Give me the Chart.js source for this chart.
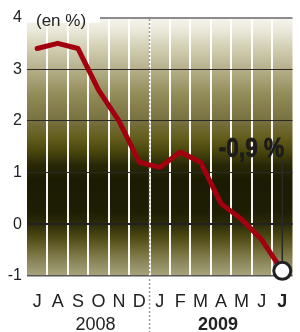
<!DOCTYPE html>
<html>
<head>
<meta charset="utf-8">
<script src="https://cdn.jsdelivr.net/npm/chart.js@4/dist/chart.umd.min.js"></script>
<style>
html,body{margin:0;padding:0;background:#fff;overflow:hidden;width:300px;height:332px;}
#wrap{width:304px;height:332px;}
</style>
</head>
<body>
<div id="wrap"><canvas id="c" width="304" height="332"></canvas></div>
<script>
// ---- data ----
const months = ['J','A','S','O','N','D','J','F','M','A','M','J','J'];
const inflation = [3.4, 3.5, 3.4, 2.6, 2.0, 1.2, 1.1, 1.4, 1.2, 0.4, 0.1, -0.3, -0.9];
const yTicks = [-1, 0, 1, 2, 3, 4];
const yearLabels = ['2008', '2009'];
const yearCenterIndex = [3, 9];
const yearBold = [false, true];
const yearBoundaryIndex = 6;
const unitLabel = '(en %)';

const FAMILY = '"Liberation Sans", Arial, Helvetica, sans-serif';
const last = inflation.length - 1;

const gradStops = [
  [0, '#f6f6ef'], [0.048, '#ebe9da'], [0.106, '#d6d3b9'], [0.199, '#b6b08a'],
  [0.300, '#918b58'], [0.397, '#787140'], [0.466, '#635d1c'], [0.520, '#48450c'],
  [0.571, '#282806'], [0.629, '#1b1b03'], [0.752, '#1e1e05'], [0.800, '#2c2b08'],
  [0.845, '#4b4712'], [0.899, '#6f6a35'], [0.950, '#8e8a5e'], [1, '#a8a47e']
];

const bgPlugin = {
  id: 'bg',
  beforeDraw(chart) {
    const {ctx, chartArea: a} = chart;
    const g = ctx.createLinearGradient(0, a.top, 0, a.bottom);
    gradStops.forEach(s => g.addColorStop(s[0], s[1]));
    ctx.save();
    ctx.fillStyle = g;
    ctx.fillRect(a.left, a.top, a.right - a.left, a.bottom - a.top);
    ctx.restore();
  },
  beforeDatasetsDraw(chart) {
    const {ctx, chartArea: a, scales} = chart;
    const xs = scales.x;
    // year separator (dashed)
    const sx = (xs.getPixelForValue(yearBoundaryIndex - 1) + xs.getPixelForValue(yearBoundaryIndex)) / 2;
    ctx.save();
    ctx.strokeStyle = '#9a9a9a';
    ctx.lineWidth = 1.5;
    ctx.setLineDash([2, 2]);
    ctx.beginPath();
    ctx.moveTo(sx, a.top + 1.5);
    ctx.lineTo(sx, chart.height);
    ctx.stroke();
    ctx.restore();
    // unit label box
    ctx.save();
    ctx.fillStyle = '#ffffff';
    ctx.fillRect(a.left, 0, 100 - a.left, 22.7);
    ctx.fillStyle = '#222';
    ctx.font = '17px ' + FAMILY;
    ctx.textAlign = 'left';
    ctx.textBaseline = 'alphabetic';
    ctx.fillText(unitLabel, 36, 26);
    ctx.restore();
    // connector to last point
    const meta = chart.getDatasetMeta(0);
    const p = meta.data[last];
    ctx.save();
    ctx.strokeStyle = '#2a2a2a';
    ctx.lineWidth = 1.5;
    ctx.beginPath();
    ctx.moveTo(p.x, 161);
    ctx.lineTo(p.x, p.y);
    ctx.stroke();
    ctx.restore();
    // value label, condensed bold
    ctx.save();
    ctx.translate(p.x + 2, 157);
    ctx.scale(0.84, 1);
    ctx.font = 'bold 27px ' + FAMILY;
    ctx.fillStyle = '#1c1c1c';
    ctx.strokeStyle = '#1c1c1c';
    ctx.lineWidth = 0.8;
    ctx.textAlign = 'right';
    ctx.textBaseline = 'alphabetic';
    const txt = inflation[last].toFixed(1).replace('.', ',') + ' %';
    ctx.fillText(txt, 0, 0);
    ctx.strokeText(txt, 0, 0);
    ctx.restore();
  },
  afterDraw(chart) {
    const {ctx, scales} = chart;
    const xs = scales.x;
    ctx.save();
    ctx.fillStyle = '#222';
    ctx.textAlign = 'center';
    ctx.textBaseline = 'alphabetic';
    yearLabels.forEach((t, i) => {
      ctx.font = (yearBold[i] ? 'bold ' : '') + '18px ' + FAMILY;
      ctx.fillText(t, xs.getPixelForValue(yearCenterIndex[i]) - 3, 330);
    });
    ctx.restore();
  }
};

new Chart(document.getElementById('c'), {
  type: 'line',
  data: {
    labels: months,
    datasets: [{
      data: inflation,
      borderColor: '#a3000f',
      borderWidth: 5,
      tension: 0,
      borderJoinStyle: 'round',
      borderCapStyle: 'round',
      clip: false,
      pointRadius: ctx => ctx.dataIndex === last ? 8.5 : 0,
      pointHoverRadius: ctx => ctx.dataIndex === last ? 8.5 : 0,
      pointBackgroundColor: '#ffffff',
      pointBorderColor: '#222',
      pointBorderWidth: 3
    }]
  },
  options: {
    responsive: false,
    animation: false,
    events: [],
    layout: {padding: {top: 17.5, left: 0, right: 0, bottom: 0}},
    plugins: {legend: {display: false}, tooltip: {enabled: false}},
    scales: {
      x: {
        type: 'category',
        offset: true,
        border: {display: false},
        grid: {
          offset: true,
          drawTicks: false,
          lineWidth: 2,
          color: ctx => (ctx.type !== 'tick' || ctx.index === 0) ? 'rgba(0,0,0,0)' : 'rgba(255,255,255,0.95)'
        },
        ticks: {
          autoSkip: false,
          maxRotation: 0,
          padding: 15,
          color: '#222',
          font: ctx => ({size: 18, family: FAMILY, weight: ctx.index === last ? 'bold' : 'normal'})
        },
        afterFit: s => { s.height = 56; }
      },
      y: {
        min: -1,
        max: 4,
        border: {display: false},
        afterBuildTicks: s => { s.ticks = yTicks.map(v => ({value: v})); },
        grid: {
          drawTicks: false,
          color: ctx => {
            const v = ctx.tick ? ctx.tick.value : null;
            if (v === 4) return '#8c8c8c';
            if (v === -1) return '#555';
            if (v === 0) return '#222';
            return '#2a2a2a';
          },
          lineWidth: ctx => {
            const v = ctx.tick ? ctx.tick.value : null;
            if (v === 4 || v === 0) return 2;
            if (v === -1) return 1.5;
            return 1;
          }
        },
        ticks: {
          padding: 5,
          color: '#222',
          font: {size: 16, family: FAMILY},
          callback: v => String(v)
        },
        afterFit: s => { s.width = 27; }
      }
    }
  },
  plugins: [bgPlugin]
});
</script>
</body>
</html>
